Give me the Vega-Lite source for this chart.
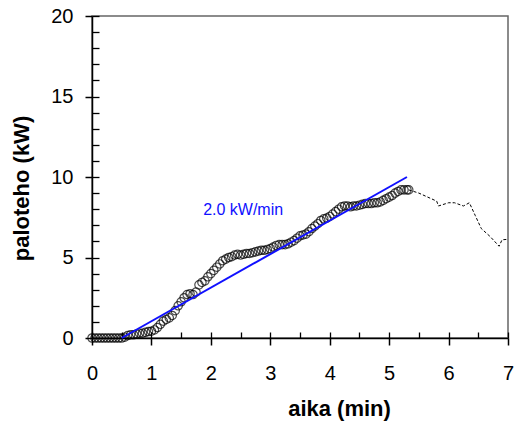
{
  "$schema": "https://vega.github.io/schema/vega-lite/v6.json",
  "width": 416,
  "height": 322,
  "autosize": "none",
  "padding": {"left": 92, "top": 16, "right": 17, "bottom": 83},
  "background": "white",
  "config": {
    "view": {"stroke": "#666666", "strokeWidth": 1.5},
    "font": "Liberation Sans",
    "axis": {"labelFont": "Liberation Sans", "titleFont": "Liberation Sans", "labelColor": "black", "titleColor": "black", "domainColor": "black", "tickColor": "black", "domainWidth": 1.5, "tickWidth": 1.5, "gridColor": "black", "gridWidth": 1.3, "gridOpacity": 1}
  },
  "datasets": {
    "pts": [
      {"t":0.00,"p":0},{"t":0.05,"p":0},{"t":0.10,"p":0},{"t":0.15,"p":0},{"t":0.20,"p":0},{"t":0.25,"p":0},{"t":0.30,"p":0},{"t":0.35,"p":0},{"t":0.40,"p":0},{"t":0.45,"p":0},{"t":0.50,"p":0},
      {"t":0.55,"p":0.05},{"t":0.60,"p":0.15},{"t":0.65,"p":0.2},{"t":0.70,"p":0.2},{"t":0.75,"p":0.25},{"t":0.80,"p":0.3},{"t":0.85,"p":0.3},{"t":0.90,"p":0.35},{"t":0.95,"p":0.4},
      {"t":1.00,"p":0.42},{"t":1.05,"p":0.5},{"t":1.10,"p":0.65},{"t":1.15,"p":0.85},{"t":1.20,"p":1.05},{"t":1.25,"p":1.15},{"t":1.30,"p":1.25},{"t":1.35,"p":1.4},{"t":1.40,"p":1.7},{"t":1.45,"p":2.0},
      {"t":1.50,"p":2.25},{"t":1.55,"p":2.5},{"t":1.60,"p":2.7},{"t":1.65,"p":2.75},{"t":1.70,"p":2.7},{"t":1.75,"p":2.85},{"t":1.80,"p":3.3},{"t":1.85,"p":3.45},{"t":1.90,"p":3.55},{"t":1.95,"p":3.8},
      {"t":2.00,"p":4.0},{"t":2.05,"p":4.2},{"t":2.10,"p":4.4},{"t":2.15,"p":4.6},{"t":2.20,"p":4.8},{"t":2.25,"p":4.9},{"t":2.30,"p":5.0},{"t":2.35,"p":5.05},{"t":2.40,"p":5.15},{"t":2.45,"p":5.2},
      {"t":2.50,"p":5.15},{"t":2.55,"p":5.2},{"t":2.60,"p":5.25},{"t":2.65,"p":5.25},{"t":2.70,"p":5.3},{"t":2.75,"p":5.35},{"t":2.80,"p":5.4},{"t":2.85,"p":5.45},{"t":2.90,"p":5.45},{"t":2.95,"p":5.5},
      {"t":3.00,"p":5.55},{"t":3.05,"p":5.65},{"t":3.10,"p":5.75},{"t":3.15,"p":5.8},{"t":3.20,"p":5.8},{"t":3.25,"p":5.8},{"t":3.30,"p":5.85},{"t":3.35,"p":5.95},{"t":3.40,"p":6.05},{"t":3.45,"p":6.2},
      {"t":3.50,"p":6.35},{"t":3.55,"p":6.4},{"t":3.60,"p":6.45},{"t":3.65,"p":6.6},{"t":3.70,"p":6.8},{"t":3.75,"p":6.95},{"t":3.80,"p":7.1},{"t":3.85,"p":7.3},{"t":3.90,"p":7.4},{"t":3.95,"p":7.45},
      {"t":4.00,"p":7.55},{"t":4.05,"p":7.7},{"t":4.10,"p":7.85},{"t":4.15,"p":8.0},{"t":4.20,"p":8.15},{"t":4.25,"p":8.2},{"t":4.30,"p":8.2},{"t":4.35,"p":8.15},{"t":4.40,"p":8.2},{"t":4.45,"p":8.2},
      {"t":4.50,"p":8.25},{"t":4.55,"p":8.3},{"t":4.60,"p":8.35},{"t":4.65,"p":8.35},{"t":4.70,"p":8.35},{"t":4.75,"p":8.4},{"t":4.80,"p":8.4},{"t":4.85,"p":8.45},{"t":4.90,"p":8.55},{"t":4.95,"p":8.65},
      {"t":5.00,"p":8.75},{"t":5.05,"p":8.85},{"t":5.10,"p":9.0},{"t":5.15,"p":9.1},{"t":5.20,"p":9.2},{"t":5.25,"p":9.2},{"t":5.30,"p":9.2},{"t":5.33,"p":9.2}
    ],
    "tail": [
      {"t":5.33,"p":9.2},{"t":5.5,"p":9.0},{"t":5.65,"p":8.75},{"t":5.8,"p":8.5},{"t":5.83,"p":8.2},{"t":6.0,"p":8.4},{"t":6.1,"p":8.4},{"t":6.25,"p":8.2},{"t":6.35,"p":8.4},{"t":6.45,"p":7.6},{"t":6.55,"p":6.8},{"t":6.7,"p":6.3},{"t":6.85,"p":5.7},{"t":6.9,"p":6.1},{"t":7.0,"p":6.13}
    ],
    "fit": [{"t":0.5,"p":0},{"t":5.3,"p":10}],
    "lbl": [{"t":1.87,"p":7.95,"txt":"2.0 kW/min"}]
  },
  "layer": [
    {
      "data": {"name": "pts"},
      "mark": {"type": "point", "shape": "circle", "filled": false, "color": "black", "strokeWidth": 1.2, "size": 70},
      "encoding": {
        "x": {"field": "t", "type": "quantitative", "scale": {"domain": [0, 7], "nice": false},
          "axis": {"orient": "bottom", "values": [0,0.5,1,1.5,2,2.5,3,3.5,4,4.5,5,5.5,6,6.5,7],
            "tickCount": 60,
            "tickSize": 7,
            "tickOpacity": {"condition": {"test": "datum.value % 1 === 0", "value": 1}, "value": 0},
            "labelExpr": "datum.value % 1 === 0 ? format(datum.value, 'd') : ''",
            "labelOverlap": false,
            "grid": true, "gridDash": [0, 316, 6, 1000],
            "labelFontSize": 20, "labelBaseline": "alphabetic", "labelPadding": 34, "labelFlush": false,
            "title": "aika (min)", "titleFontSize": 22, "titleFontWeight": "bold", "titleX": 247, "titleY": 77, "titleBaseline": "alphabetic"}},
        "y": {"field": "p", "type": "quantitative", "scale": {"domain": [0, 20], "nice": false},
          "axis": {"orient": "left", "values": [0,1,2,3,4,5,6,7,8,9,10,11,12,13,14,15,16,17,18,19,20],
            "tickCount": 60,
            "tickSize": 7,
            "tickOpacity": {"condition": {"test": "datum.value % 5 === 0", "value": 1}, "value": 0},
            "labelExpr": "datum.value % 5 === 0 ? format(datum.value, 'd') : ''",
            "labelOverlap": false,
            "grid": true, "gridDash": [7, 1000],
            "labelFontSize": 20, "labelPadding": 12, "labelFlush": false,
            "title": "paloteho (kW)", "titleFontSize": 22, "titleFontWeight": "bold", "titleX": -59, "titleY": 172}}
      }
    },
    {
      "data": {"name": "tail"},
      "mark": {"type": "line", "color": "black", "strokeWidth": 1, "strokeDash": [3, 2]},
      "encoding": {
        "x": {"field": "t", "type": "quantitative"},
        "y": {"field": "p", "type": "quantitative"}
      }
    },
    {
      "data": {"name": "fit"},
      "mark": {"type": "line", "color": "#1010ff", "strokeWidth": 2},
      "encoding": {
        "x": {"field": "t", "type": "quantitative"},
        "y": {"field": "p", "type": "quantitative"}
      }
    },
    {
      "data": {"name": "lbl"},
      "mark": {"type": "text", "color": "#1010ff", "fontSize": 16, "align": "left", "baseline": "middle", "font": "Liberation Sans"},
      "encoding": {
        "x": {"field": "t", "type": "quantitative"},
        "y": {"field": "p", "type": "quantitative"},
        "text": {"field": "txt"}
      }
    }
  ]
}
